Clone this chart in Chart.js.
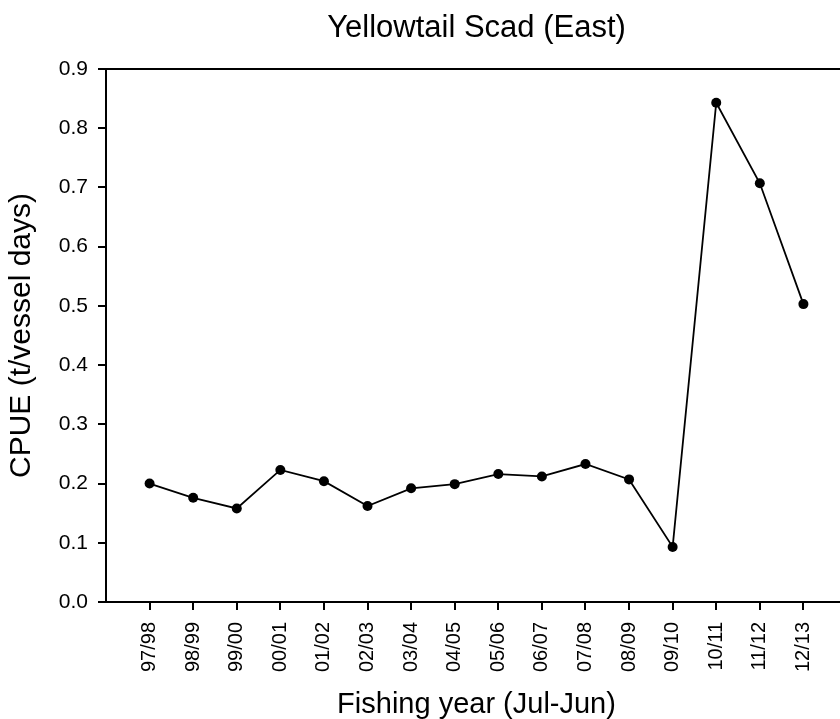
<!DOCTYPE html>
<html>
<head>
<meta charset="utf-8">
<script src="https://cdn.jsdelivr.net/npm/chart.js@4/dist/chart.umd.min.js"></script>
<style>
  html, body { margin: 0; padding: 0; background: #fff; overflow: hidden; }
  #wrap { width: 860px; height: 719px; }
</style>
</head>
<body>
<div id="wrap"><canvas id="cpue" width="860" height="719"></canvas></div>
<script>
var years = ["97/98", "98/99", "99/00", "00/01", "01/02", "02/03", "03/04", "04/05",
             "05/06", "06/07", "07/08", "08/09", "09/10", "10/11", "11/12", "12/13"];
var cpue = [0.200, 0.176, 0.158, 0.223, 0.204, 0.162, 0.192, 0.199,
            0.216, 0.212, 0.233, 0.207, 0.093, 0.843, 0.707, 0.503];
var yTicks = [0.0, 0.1, 0.2, 0.3, 0.4, 0.5, 0.6, 0.7, 0.8, 0.9];

var points = [];
for (var i = 0; i < years.length; i++) {
	points.push({ x : i, y : cpue[i] });
}

var font = "'Liberation Sans', Arial, sans-serif";

// box around the plot area (only top edge is really visible)
var frame = {
	id : "frame",
	beforeDatasetsDraw : function(chart) {
		var a = chart.chartArea, c = chart.ctx;
		c.save();
		c.strokeStyle = "#000";
		c.lineWidth = 2;
		c.beginPath();
		c.moveTo(a.left, a.top);
		c.lineTo(a.right, a.top);
		c.lineTo(a.right, a.bottom);
		c.stroke();
		c.restore();
	}
};

var chart = new Chart(document.getElementById("cpue"), {
	type : "line",
	data : {
		datasets : [{
			label : "CPUE",
			data : points,
			borderColor : "#000",
			backgroundColor : "#000",
			borderWidth : 1.8,
			pointRadius : 5,
			pointBorderWidth : 0,
			fill : false,
			tension : 0
		}]
	},
	options : {
		responsive : false,
		animation : false,
		layout : { padding : { left : 0, right : 13, top : 0, bottom : 0 } },
		plugins : {
			legend : { display : false },
			tooltip : { enabled : false },
			title : {
				display : true,
				text : "Yellowtail Scad (East)",
				fullSize : false,
				color : "#000",
				font : { family : font, size : 31, weight : "normal" },
				padding : { top : 10, bottom : 21.8 }
			}
		},
		scales : {
			x : {
				type : "linear",
				min : -1,
				max : 16,
				afterBuildTicks : function(scale) {
					scale.ticks = years.map(function(y, i) { return { value : i }; });
				},
				afterFit : function(scale) { scale.height = 117; },
				ticks : {
					autoSkip : false,
					minRotation : 90,
					maxRotation : 90,
					padding : 12,
					color : "#000",
					font : { family : font, size : 20 },
					callback : function(v) { return years[v]; }
				},
				grid : { drawOnChartArea : false, tickLength : 8, color : "#000", lineWidth : 2 },
				border : { color : "#000", width : 2 },
				title : {
					display : true,
					text : "Fishing year (Jul-Jun)",
					color : "#000",
					font : { family : font, size : 29, lineHeight : 1 },
					padding : 0
				}
			},
			y : {
				min : 0,
				max : 0.9,
				afterBuildTicks : function(scale) {
					scale.ticks = yTicks.map(function(v) { return { value : v }; });
				},
				afterFit : function(scale) { scale.width = 106; },
				ticks : {
					padding : 10,
					color : "#000",
					font : { family : font, size : 21 },
					callback : function(v) { return v.toFixed(1); }
				},
				grid : { drawOnChartArea : false, tickLength : 8, color : "#000", lineWidth : 2 },
				border : { color : "#000", width : 2 },
				title : {
					display : true,
					text : "CPUE (t/vessel days)",
					color : "#000",
					font : { family : font, size : 30 },
					padding : { top : 4, bottom : 0 }
				}
			}
		}
	},
	plugins : [frame]
});
</script>
</body>
</html>
